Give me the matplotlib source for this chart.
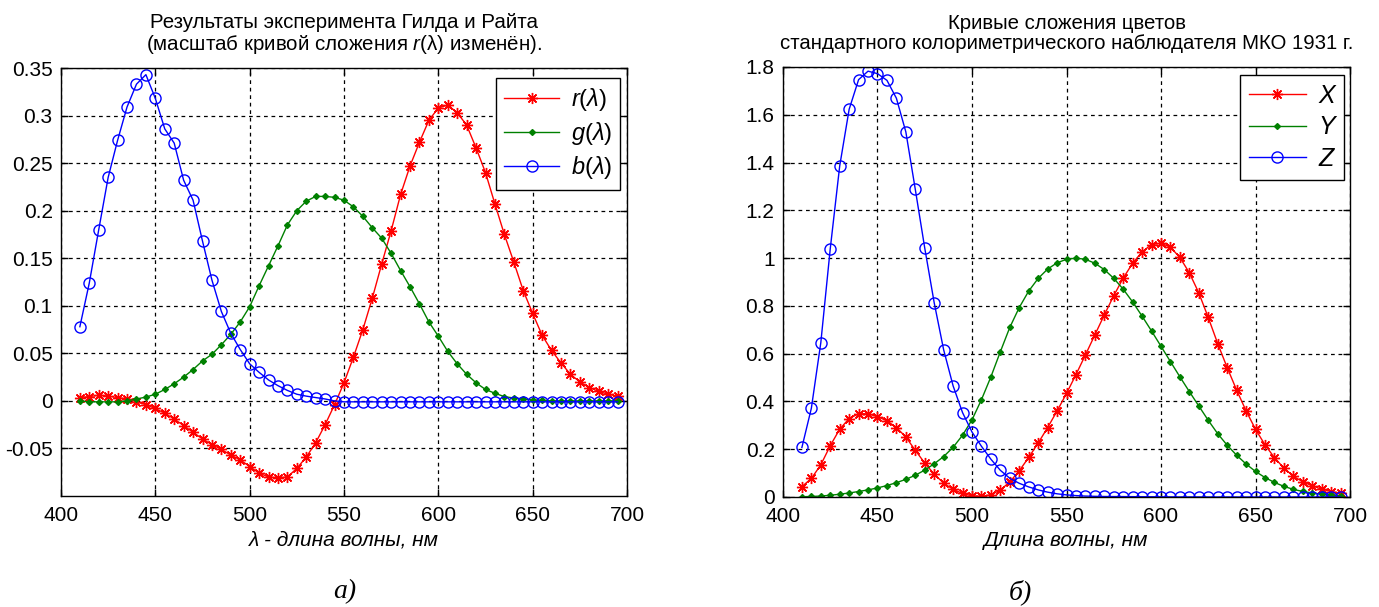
import numpy as np
import matplotlib
matplotlib.use("Agg")
import matplotlib.pyplot as plt

plt.rcParams['font.family'] = ['Liberation Sans', 'DejaVu Sans']
plt.rcParams['mathtext.fontset'] = 'custom'
plt.rcParams['mathtext.it'] = 'Liberation Sans:italic'
plt.rcParams['mathtext.rm'] = 'Liberation Sans'

# ---------------- data ----------------
wavelengths = list(range(410, 700, 5))

r_vals = [0.0035, 0.0045, 0.006, 0.005, 0.0035, 0.002, -0.001, -0.004, -0.008, -0.013,
          -0.019, -0.026, -0.033, -0.040, -0.046, -0.051, -0.057, -0.062, -0.069, -0.076,
          -0.080, -0.081, -0.080, -0.071, -0.059, -0.044, -0.025, -0.004, 0.019, 0.046,
          0.075, 0.108, 0.144, 0.179, 0.217, 0.247, 0.272, 0.295, 0.308, 0.311,
          0.303, 0.290, 0.266, 0.240, 0.207, 0.175, 0.146, 0.116, 0.092, 0.069,
          0.053, 0.040, 0.028, 0.020, 0.014, 0.010, 0.007, 0.005]
g_vals = [0.0, -0.001, -0.001, -0.001, -0.001, 0.0, 0.002, 0.004, 0.007, 0.012,
          0.018, 0.025, 0.033, 0.042, 0.049, 0.059, 0.070, 0.083, 0.099, 0.121,
          0.142, 0.163, 0.185, 0.200, 0.210, 0.215, 0.215, 0.214, 0.211, 0.204,
          0.194, 0.182, 0.171, 0.155, 0.137, 0.120, 0.102, 0.083, 0.068, 0.052,
          0.039, 0.028, 0.019, 0.012, 0.008, 0.0045, 0.003, 0.002, 0.001, 0.0005,
          0.0, 0.0, 0.0, 0.0, 0.0, 0.0, 0.0, 0.0]
b_vals = [0.078, 0.124, 0.180, 0.235, 0.274, 0.309, 0.333, 0.343, 0.318, 0.286,
          0.271, 0.232, 0.211, 0.168, 0.127, 0.094, 0.071, 0.054, 0.039, 0.030,
          0.022, 0.016, 0.011, 0.007, 0.005, 0.0035, 0.002, 0.0, -0.001, -0.001,
          -0.001, -0.001, -0.001, -0.001, -0.001, -0.001, -0.001, -0.001, -0.001, -0.001,
          -0.001, -0.001, -0.001, -0.001, -0.001, -0.001, -0.001, -0.001, -0.001, -0.001,
          -0.001, -0.001, -0.001, -0.001, -0.001, -0.001, -0.001, -0.001]

X_vals = [0.0435, 0.0776, 0.1344, 0.2148, 0.2839, 0.3285, 0.3483, 0.3481, 0.3362, 0.3187,
          0.2908, 0.2511, 0.1954, 0.1421, 0.0956, 0.0580, 0.0320, 0.0147, 0.0049, 0.0024,
          0.0093, 0.0291, 0.0633, 0.1096, 0.1655, 0.2258, 0.2904, 0.3597, 0.4335, 0.5121,
          0.5945, 0.6784, 0.7621, 0.8425, 0.9163, 0.9786, 1.0263, 1.0567, 1.0622, 1.0456,
          1.0026, 0.9384, 0.8545, 0.7514, 0.6424, 0.5419, 0.4479, 0.3608, 0.2835, 0.2187,
          0.1649, 0.1212, 0.0874, 0.0636, 0.0468, 0.0329, 0.0228, 0.0158]
Y_vals = [0.0012, 0.0022, 0.0040, 0.0073, 0.0116, 0.0168, 0.0230, 0.0298, 0.0380, 0.0480,
          0.0600, 0.0739, 0.0910, 0.1126, 0.1390, 0.1693, 0.2080, 0.2586, 0.3230, 0.4073,
          0.5030, 0.6082, 0.7100, 0.7932, 0.8620, 0.9149, 0.9540, 0.9803, 0.9950, 1.0000,
          0.9950, 0.9786, 0.9520, 0.9154, 0.8700, 0.8163, 0.7570, 0.6949, 0.6310, 0.5668,
          0.5030, 0.4412, 0.3810, 0.3210, 0.2650, 0.2170, 0.1750, 0.1382, 0.1070, 0.0816,
          0.0610, 0.0446, 0.0320, 0.0232, 0.0170, 0.0119, 0.0082, 0.0057]
Z_vals = [0.2074, 0.3713, 0.6456, 1.0391, 1.3856, 1.6230, 1.7471, 1.7826, 1.7721, 1.7441,
          1.6692, 1.5281, 1.2876, 1.0419, 0.8130, 0.6162, 0.4652, 0.3533, 0.2720, 0.2123,
          0.1582, 0.1117, 0.0783, 0.0573, 0.0422, 0.0298, 0.0203, 0.0134, 0.0088, 0.0058,
          0.0039, 0.0028, 0.0021, 0.0018, 0.0017, 0.0014, 0.0011, 0.0010, 0.0008, 0.0006,
          0.0003, 0.0002, 0.0002, 0.0001, 0.0, 0.0, 0.0, 0.0, 0.0, 0.0,
          0.0, 0.0, 0.0, 0.0, 0.0, 0.0, 0.0, 0.0]

x_ticks = [400, 450, 500, 550, 600, 650, 700]
left_yticks = [-0.05, 0, 0.05, 0.1, 0.15, 0.2, 0.25, 0.3, 0.35]
left_yticklabels = ['-0.05', '0', '0.05', '0.1', '0.15', '0.2', '0.25', '0.3', '0.35']
right_yticks = [0, 0.2, 0.4, 0.6, 0.8, 1.0, 1.2, 1.4, 1.6, 1.8]
right_yticklabels = ['0', '0.2', '0.4', '0.6', '0.8', '1', '1.2', '1.4', '1.6', '1.8']

RED = (1, 0, 0)
GREEN = (0, 0.5, 0)
BLUE = (0, 0, 1)
ASTER = (8, 2, 0)

fig = plt.figure(figsize=(13.79, 6.07), dpi=100)
axL = fig.add_axes([61/1379, 111/607, 566/1379, 428/607])
axR = fig.add_axes([783/1379, 110/607, 567/1379, 430/607])

def style(ax):
    ax.grid(True, color='black', linestyle=(0, (3, 3)), linewidth=0.9)
    ax.set_axisbelow(True)
    ax.tick_params(direction='in', top=True, right=True, length=5, width=1,
                   labelsize=15)
    ax.tick_params(axis='x', pad=7)
    ax.tick_params(axis='y', pad=6)
    for s in ax.spines.values():
        s.set_linewidth(1.0)
        s.set_color('black')
    ax.set_xlim(400, 700)
    ax.set_xticks(x_ticks)

def add_legend(ax, anchor, size):
    leg = ax.legend(loc='upper right', bbox_to_anchor=anchor,
                    prop={'size': size, 'style': 'italic'},
                    numpoints=1, handlelength=2.3, fancybox=False, edgecolor='black',
                    framealpha=1, borderpad=0.35, labelspacing=0.3, handletextpad=0.5,
                    borderaxespad=0.0)
    leg.get_frame().set_linewidth(1.0)
    return leg

lw = 1.0
axL.plot(wavelengths, r_vals, color=RED, marker=ASTER, markersize=8, markeredgewidth=1,
         linewidth=lw, label=r'$r(\lambda)$')
axL.plot(wavelengths, g_vals, color=GREEN, marker='D', markersize=3, linewidth=lw,
         label=r'$g(\lambda)$')
axL.plot(wavelengths, b_vals, color=BLUE, marker='o', markersize=8, markerfacecolor='none',
         markeredgewidth=1, linewidth=lw, label=r'$b(\lambda)$')
style(axL)
axL.set_ylim(-0.1, 0.35)
axL.set_yticks(left_yticks)
axL.set_yticklabels(left_yticklabels)
axL.set_title('Результаты эксперимента Гилда и Райта\n(масштаб кривой сложения $r$(λ) изменён).',
              fontsize=14.8, pad=13, linespacing=1.05)
axL.set_xlabel('λ - длина волны, нм', fontsize=15, style='italic', labelpad=4)
add_legend(axL, ((620 - 61) / 566, (496 - 78) / 428), 17)

axR.plot(wavelengths, X_vals, color=RED, marker=ASTER, markersize=8, markeredgewidth=1,
         linewidth=lw, label='X')
axR.plot(wavelengths, Y_vals, color=GREEN, marker='D', markersize=3, linewidth=lw,
         label='Y')
axR.plot(wavelengths, Z_vals, color=BLUE, marker='o', markersize=8, markerfacecolor='none',
         markeredgewidth=1, linewidth=lw, label='Z')
style(axR)
axR.set_ylim(0, 1.8)
axR.set_yticks(right_yticks)
axR.set_yticklabels(right_yticklabels)
axR.set_title('Кривые сложения цветов\nстандартного колориметрического наблюдателя МКО 1931 г.',
              fontsize=14.7, pad=13, linespacing=1.05)
axR.set_xlabel('Длина волны, нм', fontsize=15, style='italic', labelpad=4)
add_legend(axR, ((1344 - 783) / 567, (497 - 75) / 430), 18)

fig.text(345/1379, 1 - 592/607, 'а)', fontsize=20, style='italic',
         family=['Liberation Serif', 'DejaVu Serif'], ha='center', va='center')
fig.text(1020/1379, 1 - 592/607, 'б)', fontsize=20, style='italic',
         family=['Liberation Serif', 'DejaVu Serif'], ha='center', va='center')

fig.savefig('out.png', dpi=100)
